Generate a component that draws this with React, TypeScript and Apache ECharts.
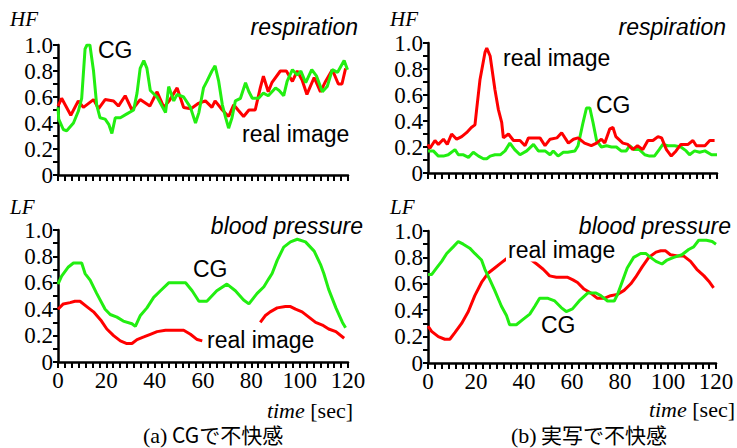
import React, { useEffect, useRef } from "react";
import * as echarts from "echarts";

// ---- data (time [sec], value) ----
const aHfReal = [[0,0.53],[1.5,0.59],[5.3,0.46],[8.4,0.57],[10.5,0.52],[14.7,0.58],[16.8,0.51],[19.5,0.58],[23,0.57],[25,0.53],[27.8,0.61],[30.6,0.5],[34,0.58],[38,0.53],[41,0.64],[43.8,0.52],[46,0.57],[49.3,0.67],[52,0.52],[55,0.51],[58,0.55],[61,0.57],[63.7,0.52],[65,0.57],[68,0.5],[70.6,0.45],[72.7,0.54],[74.5,0.5],[76.8,0.45],[79,0.5],[81.6,0.5],[83.7,0.67],[85,0.76],[87,0.64],[88.5,0.71],[92,0.8],[94.5,0.8],[97,0.72],[99,0.8],[101,0.73],[103,0.62],[106,0.75],[108.6,0.64],[110.7,0.72],[113.5,0.81],[116,0.7],[117.5,0.7],[119,0.82]];
const aHfCg = [[0,0.52],[0.3,0.43],[2.2,0.35],[3.6,0.34],[6.4,0.4],[8.4,0.49],[9.8,0.59],[11.2,0.97],[12,1.0],[13.2,1.0],[14.7,0.8],[16,0.54],[17.4,0.44],[19.5,0.43],[21,0.39],[22.3,0.32],[23.7,0.44],[25.8,0.44],[28.5,0.47],[31.3,0.5],[32.7,0.63],[34,0.82],[35.5,0.88],[36.8,0.82],[38.2,0.65],[41,0.6],[44.5,0.48],[45.8,0.68],[47.9,0.57],[49.3,0.62],[52,0.6],[54.8,0.52],[56.9,0.4],[58.3,0.48],[60.2,0.67],[61.6,0.72],[63.7,0.8],[65,0.84],[66.5,0.72],[68,0.54],[69.4,0.44],[70.6,0.36],[72,0.44],[73.4,0.57],[75.5,0.59],[77.6,0.71],[79,0.64],[80.4,0.59],[83,0.59],[85,0.63],[87,0.61],[90,0.67],[91.5,0.65],[93.4,0.61],[94.8,0.72],[97,0.81],[99,0.77],[100.5,0.8],[102.5,0.71],[105,0.81],[107,0.76],[109.4,0.64],[111.4,0.68],[113.5,0.81],[115.7,0.79],[118.4,0.88],[119.8,0.81]];
const bHfReal = [[0,0.22],[0.8,0.19],[2.9,0.25],[4.3,0.22],[6.4,0.26],[8,0.22],[9.8,0.3],[11.9,0.26],[14,0.28],[16,0.31],[18,0.35],[19.5,0.37],[20.2,0.49],[21.6,0.72],[23.7,0.93],[24.4,0.96],[25.8,0.9],[27.8,0.64],[29.2,0.49],[30.6,0.39],[31.3,0.27],[33.4,0.3],[35.5,0.25],[38.2,0.25],[40.3,0.21],[41.7,0.27],[44.5,0.27],[46.5,0.27],[48.6,0.21],[50.7,0.26],[53.5,0.27],[55.5,0.31],[58.3,0.23],[60.4,0.26],[62.3,0.27],[65,0.23],[67.8,0.21],[70,0.23],[72,0.26],[73.4,0.23],[75.5,0.34],[76.8,0.35],[78,0.28],[80.9,0.23],[83,0.22],[85,0.18],[87,0.21],[89.2,0.18],[91.3,0.25],[93.4,0.25],[95.5,0.28],[97,0.27],[99,0.18],[101,0.13],[103,0.17],[105,0.22],[108,0.22],[110,0.25],[111.4,0.21],[115,0.21],[117,0.25],[119,0.25]];
const bHfCg = [[0,0.17],[2.2,0.17],[4.3,0.13],[6.4,0.13],[8.4,0.14],[11.2,0.18],[12.6,0.14],[14.7,0.14],[16.8,0.12],[18.8,0.16],[21,0.13],[23,0.11],[24.4,0.11],[25.8,0.13],[27.8,0.14],[30,0.14],[32,0.17],[34,0.23],[36,0.18],[38.2,0.14],[41,0.17],[43.8,0.22],[45.8,0.17],[48.6,0.17],[50.7,0.14],[52,0.17],[54,0.13],[56.2,0.16],[58,0.16],[61,0.17],[62.3,0.21],[64.4,0.39],[65.8,0.5],[67.2,0.5],[68.5,0.39],[70,0.25],[72,0.2],[74.1,0.21],[76.2,0.2],[78.2,0.2],[80.2,0.17],[82.3,0.17],[83.7,0.21],[85.7,0.18],[87.8,0.18],[90,0.14],[92,0.13],[94,0.13],[96,0.18],[97.5,0.22],[99.6,0.21],[102.4,0.21],[105,0.2],[107.2,0.17],[108.6,0.14],[110.7,0.17],[112.8,0.16],[115,0.17],[117.7,0.14],[120,0.14]];
const aLfCg = [[0,0.59],[1.5,0.65],[4.3,0.72],[6.4,0.75],[9.8,0.75],[11.2,0.67],[13.3,0.62],[16,0.52],[19.5,0.4],[21.6,0.36],[24.4,0.34],[27,0.31],[30.6,0.29],[32,0.27],[34,0.35],[36.8,0.41],[39.6,0.49],[42.4,0.54],[45.8,0.6],[49.3,0.6],[52.8,0.6],[55.5,0.54],[58.3,0.46],[61.6,0.46],[65.7,0.54],[69.9,0.59],[73.4,0.54],[76.8,0.47],[79,0.44],[82.4,0.52],[85.2,0.57],[87.2,0.63],[88.6,0.67],[90.7,0.77],[93.4,0.87],[96.2,0.91],[99,0.93],[102.4,0.91],[106,0.84],[108.6,0.74],[110,0.67],[112,0.55],[115,0.41],[117.7,0.3],[119,0.26]];
const aLfRealPart1 = [[0,0.4],[2.2,0.44],[5,0.45],[7,0.46],[9.1,0.46],[11.9,0.42],[14.7,0.38],[18,0.31],[20.2,0.25],[23,0.2],[25.8,0.16],[28.5,0.14],[30.6,0.14],[32.7,0.17],[35.5,0.19],[38.2,0.21],[41,0.23],[44.5,0.24],[47.9,0.24],[52,0.24],[54.8,0.21],[57.6,0.17],[59.7,0.16]];
const aLfRealPart2 = [[83.7,0.3],[85.7,0.35],[87.8,0.38],[90.7,0.41],[94.1,0.42],[96.2,0.42],[98.3,0.4],[101,0.38],[103.8,0.34],[106.6,0.3],[109.4,0.28],[112,0.25],[115,0.23],[118.4,0.18]];
const bLfCg = [[0,0.67],[1.5,0.67],[3.6,0.72],[5.7,0.77],[7.8,0.83],[10.5,0.88],[12.6,0.92],[14.7,0.9],[17.4,0.87],[19.5,0.83],[22.3,0.78],[23.7,0.71],[25.8,0.63],[27.8,0.55],[30.6,0.43],[32.7,0.36],[34,0.29],[36.8,0.29],[39.6,0.33],[42.4,0.37],[44.5,0.43],[46.5,0.49],[50,0.49],[52.8,0.47],[55.5,0.42],[57.6,0.39],[60.2,0.41],[63,0.47],[66.5,0.53],[70,0.53],[72,0.51],[74.8,0.47],[77.6,0.47],[79,0.52],[81,0.62],[83,0.72],[85.7,0.8],[88.6,0.83],[90.7,0.83],[92.7,0.8],[95,0.77],[97.5,0.75],[99.6,0.78],[102.4,0.8],[105.8,0.82],[108.6,0.86],[110.7,0.88],[112.8,0.93],[116,0.93],[118.4,0.92],[120,0.9]];
const bLfReal = [[0,0.28],[1.5,0.24],[4.3,0.2],[7,0.18],[9.1,0.18],[11.2,0.23],[14,0.3],[16.8,0.39],[19.5,0.51],[22.3,0.61],[25,0.68],[27.8,0.72],[30.6,0.76],[32.7,0.79],[37,0.8],[42.4,0.79],[45.3,0.75],[48,0.71],[50.7,0.66],[53.5,0.65],[56.2,0.65],[58,0.65],[60.4,0.63],[62.3,0.61],[65,0.56],[67.8,0.53],[70.6,0.49],[73.4,0.49],[76.1,0.51],[78.9,0.52],[81.7,0.55],[84.5,0.6],[86.5,0.65],[89.3,0.73],[92,0.8],[95,0.84],[97,0.85],[99,0.85],[101,0.82],[104,0.81],[106.6,0.81],[109.4,0.77],[112,0.71],[115,0.66],[117,0.62],[119,0.57]];

const xTicks = [0, 20, 40, 60, 80, 100, 120];
const yTicks = [0, 0.2, 0.4, 0.6, 0.8, 1.0];

const RED = "#ff0000";
const GREEN = "#22ee11";
const SERIF = "Liberation Serif";
const SANS = "Liberation Sans";
const CJK = "Noto Sans CJK JP";

export default function App() {
  const ref = useRef<HTMLDivElement>(null);
  useEffect(() => {
    if (!ref.current) return;
    const chart = echarts.init(ref.current, null, { renderer: "svg" });
    const grids = [
      { left: 58, top: 45, width: 290, height: 130 },
      { left: 428, top: 43, width: 289, height: 130 },
      { left: 58, top: 230, width: 290, height: 132 },
      { left: 428, top: 231, width: 288, height: 132 },
    ];
    const axisLine = { lineStyle: { color: "#000", width: 2.5 } };
    const xAxis = grids.map((_, i) => ({
      type: "value",
      gridIndex: i,
      min: xTicks[0],
      max: xTicks[xTicks.length - 1],
      interval: xTicks[1] - xTicks[0],
      axisLine: { ...axisLine, onZero: false },
      axisTick: { show: true, length: 6, lineStyle: { color: "#000", width: 2 } },
      minorTick: { show: true, splitNumber: 7, length: 6, lineStyle: { color: "#000", width: 2 } },
      splitLine: { show: false },
      axisLabel: {
        show: i >= 2,
        margin: 7,
        color: "#000",
        fontFamily: SERIF,
        fontSize: 23,
      },
    }));
    const yAxis = grids.map((_, i) => ({
      type: "value",
      gridIndex: i,
      min: yTicks[0],
      max: yTicks[yTicks.length - 1],
      interval: yTicks[1] - yTicks[0],
      axisLine: { ...axisLine, onZero: false },
      axisTick: { show: true, length: 5, lineStyle: { color: "#000", width: 2 } },
      minorTick: { show: true, splitNumber: 2, length: 5, lineStyle: { color: "#000", width: 2 } },
      splitLine: { show: false },
      axisLabel: {
        margin: 5,
        color: "#000",
        fontFamily: SERIF,
        fontSize: 23,
        formatter: (v: number) => (v === 0 ? "0" : v.toFixed(1)),
      },
    }));
    const mk = (data: number[][], color: string, idx: number) => ({
      type: "line",
      xAxisIndex: idx,
      yAxisIndex: idx,
      data,
      symbol: "none",
      showSymbol: false,
      lineStyle: { color, width: 3 },
      z: 3,
    });
    const txt = (text: string, x: number, y: number, opts: any = {}) => ({
      type: "text",
      x,
      y,
      z: 10,
      style: {
        text,
        fill: "#000",
        fontFamily: opts.family || SANS,
        fontSize: opts.size || 23,
        fontStyle: opts.italic ? "italic" : "normal",
        textAlign: opts.align || "left",
        textVerticalAlign: "middle",
        verticalAlign: "middle",
        ...(opts.bg ? { backgroundColor: "#fff", padding: [0, 2] } : {}),
        ...(opts.rich ? { rich: opts.rich } : {}),
      },
    });
    const timeRich = { i: { fontStyle: "italic", fontFamily: SERIF, fontSize: 22, fill: "#000" } };
    chart.setOption({
      animation: false,
      backgroundColor: "#fff",
      grid: grids,
      xAxis,
      yAxis,
      series: [
        mk(aHfReal, RED, 0),
        mk(aHfCg, GREEN, 0),
        mk(bHfCg, GREEN, 1),
        mk(bHfReal, RED, 1),
        mk(aLfCg, GREEN, 2),
        mk(aLfRealPart1, RED, 2),
        mk(aLfRealPart2, RED, 2),
        mk(bLfReal, RED, 3),
        mk(bLfCg, GREEN, 3),
      ],
      graphic: [
        txt("HF", 10, 19, { family: SERIF, italic: true, size: 21 }),
        txt("HF", 390, 19, { family: SERIF, italic: true, size: 21 }),
        txt("respiration", 358, 27, { italic: true, align: "right" }),
        txt("respiration", 726, 27, { italic: true, align: "right" }),
        txt("CG", 98, 50),
        txt("real image", 242, 134),
        txt("real image", 503, 58),
        txt("CG", 596, 105),
        txt("LF", 10, 207, { family: SERIF, italic: true, size: 21 }),
        txt("LF", 390, 207, { family: SERIF, italic: true, size: 21 }),
        txt("blood pressure", 363, 226, { italic: true, align: "right" }),
        txt("blood pressure", 731, 226, { italic: true, align: "right" }),
        txt("CG", 193, 269),
        txt("real image", 207, 340),
        txt("real image", 506, 250, { bg: true }),
        txt("CG", 541, 325),
        txt("{i|time} [sec]", 353, 410, { family: SERIF, size: 22, align: "right", rich: timeRich }),
        txt("{i|time} [sec]", 735, 409, { family: SERIF, size: 22, align: "right", rich: timeRich }),
        txt("(a)", 143, 435, { family: SERIF, size: 22 }),
        txt("CGで不快感", 172, 434, { family: CJK, size: 21 }),
        txt("(b)", 511, 435, { family: SERIF, size: 22 }),
        txt("実写で不快感", 541, 434, { family: CJK, size: 21 }),
      ],
    });
    return () => chart.dispose();
  }, []);
  return (
    <div
      ref={ref}
      style={{ position: "fixed", left: 0, top: 0, width: 737, height: 448, background: "#fff" }}
    />
  );
}
